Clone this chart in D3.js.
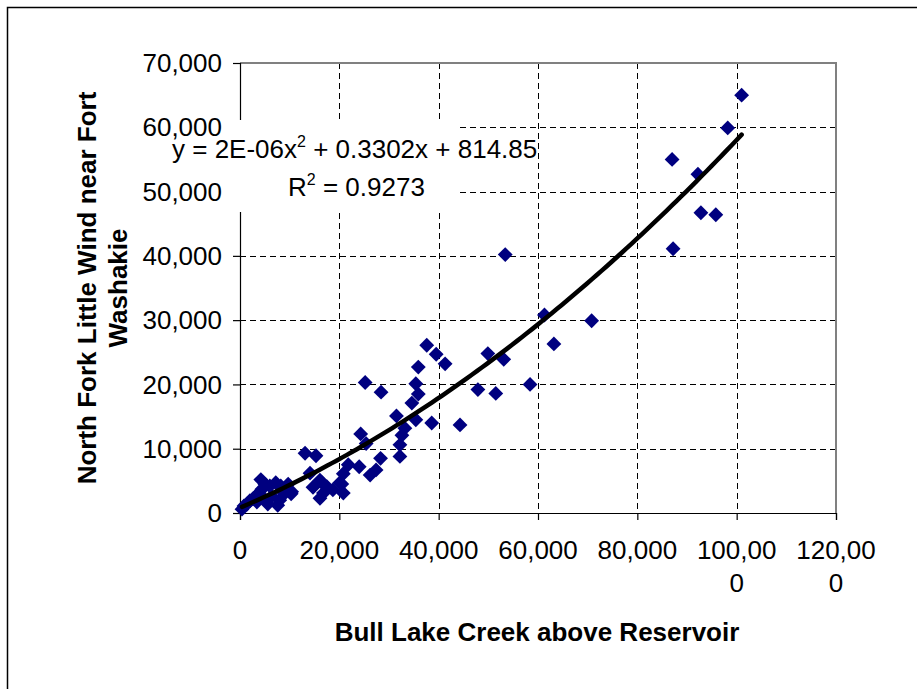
<!DOCTYPE html>
<html>
<head>
<meta charset="utf-8">
<script src="https://cdn.jsdelivr.net/npm/d3@7"></script>
<style>
  html, body { margin: 0; padding: 0; background: #fff; }
  svg { display: block; font-family: "Liberation Sans", Arial, sans-serif; }
</style>
</head>
<body>
<svg id="chart" width="917" height="689"></svg>
<script>
// ---- data ----
const xValues = [
  101000, 98200, 87000, 92200, 92800, 95800, 87200,
  53400, 61300, 70800, 63200, 49900, 53100, 41300,
  47900, 51500, 58400, 44300,
  37600, 39500, 35900, 25200, 28400, 35400, 35900, 34600, 31500, 38600, 35400, 33200, 32600, 32200, 32200,
  24300, 25400, 28300, 13100, 15300, 21800, 24000, 26200, 27400, 20800, 20500, 20800,
  14100, 16100, 17500, 16800, 10400, 16100, 14700, 16500, 18700, 20100,
  400, 800, 1400, 2000, 2600, 3200, 3800, 4400, 4200, 5000, 6000, 7200, 8200, 9300, 10300,
  6400, 5200, 8000, 7600, 5600, 3400, 8900, 9700
];
const yValues = [
  65000, 59900, 55000, 52700, 46700, 46400, 41100,
  40200, 30800, 29900, 26300, 24800, 23900, 23200,
  19200, 18600, 20000, 13700,
  26100, 24700, 22700, 20300, 18800, 20100, 18500, 17100, 15100, 14000, 14500, 13200, 12100, 10600, 8800,
  12300, 10800, 8500, 9300, 8900, 7500, 7200, 5900, 6700, 6100, 4500, 3100,
  6200, 5100, 4100, 3100, 3300, 2300, 4000, 4700, 3600, 4700,
  600, 1100, 1400, 1900, 2200, 2600, 3100, 3700, 5200, 4500, 4200, 4700, 4200, 3600, 3000,
  2600, 2000, 2000, 1200, 1400, 1700, 3000, 4500
];
const xTicks = [0, 20000, 40000, 60000, 80000, 100000, 120000];
const xTickLabels = [["0"], ["20,000"], ["40,000"], ["60,000"], ["80,000"], ["100,00", "0"], ["120,00", "0"]];
const yTicks = [0, 10000, 20000, 30000, 40000, 50000, 60000, 70000];
const yTickLabels = ["0", "10,000", "20,000", "30,000", "40,000", "50,000", "60,000", "70,000"];
const trendCoef = [2.42e-6, 0.3302, 814.85]; // a x^2 + b x + c
const equationText = ["y = 2E-06x", "2", " + 0.3302x + 814.85"];
const r2Text = ["R", "2", " = 0.9273"];
const xTitle = "Bull Lake Creek above Reservoir";
const yTitleLines = ["North Fork Little Wind near Fort", "Washakie"];

// ---- drawing ----
const svg = d3.select("#chart");
const L = 240, R = 836, T = 63, B = 513;
const x = d3.scaleLinear().domain([0, 120000]).range([L, R]);
const y = d3.scaleLinear().domain([0, 70000]).range([B, T]);

// outer chart border
svg.append("rect").attr("x", 7.5).attr("y", 7.5).attr("width", 1000).attr("height", 1000)
  .attr("fill", "#fff").attr("stroke", "#000").attr("stroke-width", 1.5);

// plot area
svg.append("rect").attr("x", L).attr("y", T).attr("width", R - L).attr("height", B - T)
  .attr("fill", "#fff");

// gridlines
const grid = svg.append("g").attr("stroke", "#000").attr("stroke-width", 1)
  .attr("stroke-dasharray", "6,4").attr("shape-rendering", "crispEdges");
grid.selectAll("line.h").data(yTicks.filter(v => v > 0 && v < 70000)).join("line")
  .attr("x1", L).attr("x2", R).attr("y1", d => Math.round(y(d)) + 0.5).attr("y2", d => Math.round(y(d)) + 0.5);
grid.selectAll("line.v").data(xTicks.filter(v => v > 0 && v < 120000)).join("line")
  .attr("y1", T).attr("y2", B).attr("x1", d => Math.round(x(d)) + 0.5).attr("x2", d => Math.round(x(d)) + 0.5);

// plot border (top/right gray)
svg.append("path")
  .attr("d", `M${L},${T}H${R}V${B}`)
  .attr("fill", "none").attr("stroke", "#808080").attr("stroke-width", 2);

// axes
const xAxis = d3.axisBottom(x).tickValues(xTicks).tickSize(7).tickFormat("");
const yAxis = d3.axisLeft(y).tickValues(yTicks).tickSize(7).tickFormat("");
const gx = svg.append("g").attr("transform", `translate(0,${B})`).call(xAxis);
const gy = svg.append("g").attr("transform", `translate(${L},0)`).call(yAxis);
[gx, gy].forEach(g => {
  g.select(".domain").attr("stroke", "#000").attr("stroke-width", 1.2);
  g.selectAll(".tick line").attr("stroke", "#000").attr("stroke-width", 1.2);
});

// points (diamonds)
const pts = xValues.map((v, i) => [v, yValues[i]]);
const diamond = d3.symbol().type(d3.symbolSquare).size(110);
svg.append("g").selectAll("path").data(pts).join("path")
  .attr("d", diamond)
  .attr("transform", d => `translate(${x(d[0])},${y(d[1])}) rotate(45)`)
  .attr("fill", "#000080");

// trendline
const xmin = d3.min(xValues), xmax = d3.max(xValues);
const trendX = d3.range(0, 101).map(i => xmin + (xmax - xmin) * i / 100);
const f = v => trendCoef[0] * v * v + trendCoef[1] * v + trendCoef[2];
svg.append("path")
  .attr("d", d3.line().x(d => x(d)).y(d => y(f(d)))(trendX))
  .attr("fill", "none").attr("stroke", "#000").attr("stroke-width", 4.5)
  .attr("stroke-linecap", "round");

// white box behind the trendline label
svg.append("rect").attr("x", 166).attr("y", 120).attr("width", 290).attr("height", 92)
  .attr("fill", "#fff");

// tick labels
const xl = svg.append("g").attr("font-size", 26).attr("fill", "#000").attr("text-anchor", "middle");
xTicks.forEach((v, i) => {
  const t = xl.append("text").attr("x", x(v)).attr("y", 559);
  xTickLabels[i].forEach((line, j) => {
    t.append("tspan").attr("x", x(v)).attr("dy", j === 0 ? 0 : 32.5).text(line);
  });
});
const yl = svg.append("g").attr("font-size", 26).attr("fill", "#000").attr("text-anchor", "end");
yTicks.forEach((v, i) => {
  yl.append("text").attr("x", 222).attr("y", y(v)).attr("dy", "0.35em").text(yTickLabels[i]);
});

// equation labels
const eq = svg.append("text").attr("x", 172).attr("y", 158).attr("font-size", 26).attr("fill", "#000");
eq.append("tspan").text(equationText[0]);
eq.append("tspan").attr("font-size", 16).attr("dy", -11).text(equationText[1]);
eq.append("tspan").attr("dy", 11).text(equationText[2]);
const r2 = svg.append("text").attr("x", 288).attr("y", 196).attr("font-size", 26).attr("fill", "#000");
r2.append("tspan").text(r2Text[0]);
r2.append("tspan").attr("font-size", 16).attr("dy", -11).text(r2Text[1]);
r2.append("tspan").attr("dy", 11).text(r2Text[2]);

// axis titles
svg.append("text").attr("x", (L + R) / 2 - 1).attr("y", 641)
  .attr("text-anchor", "middle").attr("font-size", 26).attr("font-weight", "bold").text(xTitle);
const cy = (T + B) / 2;
yTitleLines.forEach((line, i) => {
  svg.append("text")
    .attr("transform", `translate(${96 + i * 31},${cy}) rotate(-90)`)
    .attr("text-anchor", "middle").attr("font-size", 26).attr("font-weight", "bold").text(line);
});
</script>
</body>
</html>
